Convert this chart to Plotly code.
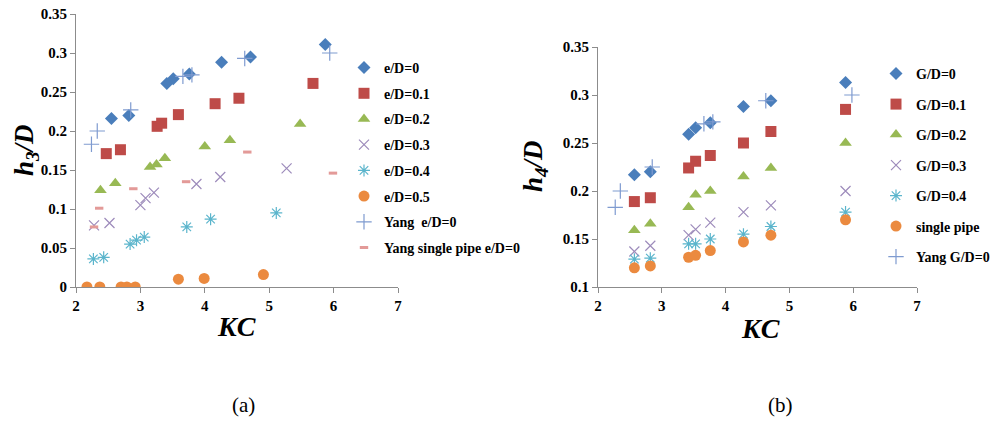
import plotly.graph_objects as go

# ---------------- data: panel (a) ----------------
a_ed0_kc = [2.55, 2.82, 3.41, 3.51, 3.76, 4.26, 4.71, 5.87]
a_ed0_h = [0.216, 0.220, 0.261, 0.267, 0.273, 0.288, 0.295, 0.311]
a_ed1_kc = [2.47, 2.69, 3.26, 3.33, 3.59, 4.16, 4.53, 5.68]
a_ed1_h = [0.171, 0.176, 0.206, 0.210, 0.221, 0.235, 0.242, 0.261]
a_ed2_kc = [2.38, 2.61, 3.15, 3.25, 3.38, 4.00, 4.39, 5.48]
a_ed2_h = [0.124, 0.133, 0.154, 0.157, 0.165, 0.180, 0.188, 0.209]
a_ed3_kc = [2.28, 2.52, 3.00, 3.08, 3.21, 3.87, 4.24, 5.27]
a_ed3_h = [0.079, 0.082, 0.105, 0.114, 0.121, 0.132, 0.141, 0.152]
a_ed4_kc = [2.27, 2.43, 2.84, 2.94, 3.06, 3.72, 4.09, 5.11]
a_ed4_h = [0.036, 0.038, 0.055, 0.060, 0.064, 0.077, 0.087, 0.095]
a_ed5_kc = [2.17, 2.37, 2.70, 2.79, 2.92, 3.59, 3.99, 4.91]
a_ed5_h = [0.0, 0.0, 0.0, 0.0, 0.0, 0.010, 0.011, 0.016]
yang_kc = [2.24, 2.33, 2.85, 3.66, 3.80, 4.62, 5.94]
yang_h = [0.183, 0.200, 0.227, 0.270, 0.272, 0.293, 0.300]
yang_sp_kc = [2.28, 2.36, 2.89, 3.71, 4.66, 5.99]
yang_sp_h = [0.077, 0.101, 0.126, 0.135, 0.173, 0.146]

# ---------------- data: panel (b) ----------------
b_kc = [2.57, 2.82, 3.42, 3.53, 3.76, 4.28, 4.71, 5.88]
b_gd0_h = [0.217, 0.220, 0.259, 0.266, 0.271, 0.288, 0.294, 0.313]
b_gd1_h = [0.189, 0.193, 0.224, 0.231, 0.237, 0.250, 0.262, 0.285]
b_gd2_h = [0.159, 0.166, 0.183, 0.196, 0.200, 0.215, 0.224, 0.250]
b_gd3_h = [0.137, 0.143, 0.154, 0.160, 0.167, 0.178, 0.185, 0.200]
b_gd4_h = [0.129, 0.130, 0.145, 0.145, 0.150, 0.155, 0.163, 0.178]
b_sp_h = [0.120, 0.122, 0.131, 0.133, 0.138, 0.147, 0.154, 0.170]
b_yang_kc = [2.27, 2.35, 2.85, 3.66, 3.80, 4.63, 5.98]
b_yang_h = [0.183, 0.200, 0.225, 0.270, 0.272, 0.294, 0.300]

names_a = ["e/D=0", "e/D=0.1", "e/D=0.2", "e/D=0.3", "e/D=0.4", "e/D=0.5",
           "Yang  e/D=0", "Yang single pipe e/D=0"]
names_b = ["G/D=0", "G/D=0.1", "G/D=0.2", "G/D=0.3", "G/D=0.4", "single pipe",
           "Yang G/D=0"]

BLUE = "#4a7ebb"
RED = "#be4b48"
GREEN = "#98b954"
PURPLE = "#9d8bbb"
CYAN = "#5bb5cc"
ORANGE = "#eb8a3f"
LBLUE = "#7f9bd0"
PINK = "#e39a98"

styles = [
    dict(symbol="diamond", size=10, color=BLUE),
    dict(symbol="square", size=11, color=RED),
    dict(symbol="triangle-up", size=11, color=GREEN),
    dict(symbol="x-thin-open", size=10, color=PURPLE, line=dict(color=PURPLE, width=1.2)),
    dict(symbol="asterisk-open", size=10, color=CYAN, line=dict(color=CYAN, width=1.2)),
    dict(symbol="circle", size=11, color=ORANGE),
    dict(symbol="cross-thin-open", size=11, color=LBLUE, line=dict(color=LBLUE, width=1.2)),
    dict(symbol="line-ew-open", size=6, color=PINK, line=dict(color=PINK, width=3)),
]

fig = go.Figure()

a_series = [(a_ed0_kc, a_ed0_h), (a_ed1_kc, a_ed1_h), (a_ed2_kc, a_ed2_h),
            (a_ed3_kc, a_ed3_h), (a_ed4_kc, a_ed4_h), (a_ed5_kc, a_ed5_h),
            (yang_kc, yang_h), (yang_sp_kc, yang_sp_h)]
for i, ((xs, ys), nm) in enumerate(zip(a_series, names_a)):
    fig.add_trace(go.Scatter(x=xs, y=ys, mode="markers", name=nm, marker=styles[i],
                             xaxis="x", yaxis="y", legend="legend", legendgroup="a%d" % i))

b_series = [(b_kc, b_gd0_h), (b_kc, b_gd1_h), (b_kc, b_gd2_h), (b_kc, b_gd3_h),
            (b_kc, b_gd4_h), (b_kc, b_sp_h), (b_yang_kc, b_yang_h)]
for i, ((xs, ys), nm) in enumerate(zip(b_series, names_b)):
    fig.add_trace(go.Scatter(x=xs, y=ys, mode="markers", name=nm, marker=styles[i],
                             xaxis="x2", yaxis="y2", legend="legend2", legendgroup="b%d" % i))

W, H = 995, 423
def px(x):
    return x / W
def py(y):
    return 1 - y / H

SERIF = "Liberation Serif, Times New Roman, serif"
tickfont = dict(family=SERIF, size=15, color="black", weight="bold")
axis_common = dict(showline=True, linecolor="#8c8c8c", linewidth=1, ticks="outside",
                   ticklen=5, tickcolor="#8c8c8c", showgrid=False, zeroline=False,
                   tickfont=tickfont, fixedrange=True, automargin=False)
legfont = dict(family=SERIF, size=14, color="black", weight="bold")

fig.update_layout(
    width=W, height=H, margin=dict(l=0, r=0, t=0, b=0, autoexpand=False),
    paper_bgcolor="white", plot_bgcolor="white",
    xaxis=dict(domain=[px(76), px(398)], range=[2, 7], dtick=1, anchor="y", **axis_common),
    yaxis=dict(domain=[py(287), py(14)], range=[0, 0.35], dtick=0.05, anchor="x", **axis_common),
    xaxis2=dict(domain=[px(598), px(917)], range=[2, 7], dtick=1, anchor="y2", **axis_common),
    yaxis2=dict(domain=[py(287), py(47)], range=[0.1, 0.35], dtick=0.05, anchor="x2", **axis_common),
    legend=dict(x=px(344), y=py(52), xanchor="left", yanchor="top", font=legfont,
                traceorder="grouped", tracegroupgap=4.5, itemwidth=30,
                bgcolor="rgba(0,0,0,0)"),
    legend2=dict(x=px(876), y=py(58), xanchor="left", yanchor="top", font=legfont,
                 traceorder="grouped", tracegroupgap=9.3, itemwidth=30,
                 bgcolor="rgba(0,0,0,0)"),
    showlegend=True,
)

ann_font = dict(family=SERIF, size=28, color="black", weight="bold", style="italic")
yt_font = dict(family=SERIF, size=27, color="black", weight="bold", style="italic")
def note(text, x, y, font, angle=0):
    fig.add_annotation(text=text, x=px(x), y=py(y), xref="paper", yref="paper",
                       xanchor="center", yanchor="middle", showarrow=False,
                       textangle=angle, font=font)

note("KC", 236, 326, ann_font)
note("KC", 760, 328, ann_font)
note("h<sub>3</sub>/D", 26, 151, yt_font, -90)
note("h<sub>4</sub>/D", 535, 167, yt_font, -90)
note("(a)", 243, 405, dict(family=SERIF, size=21, color="black"))
note("(b)", 780, 405, dict(family=SERIF, size=21, color="black"))

fig.write_html("out.html")
